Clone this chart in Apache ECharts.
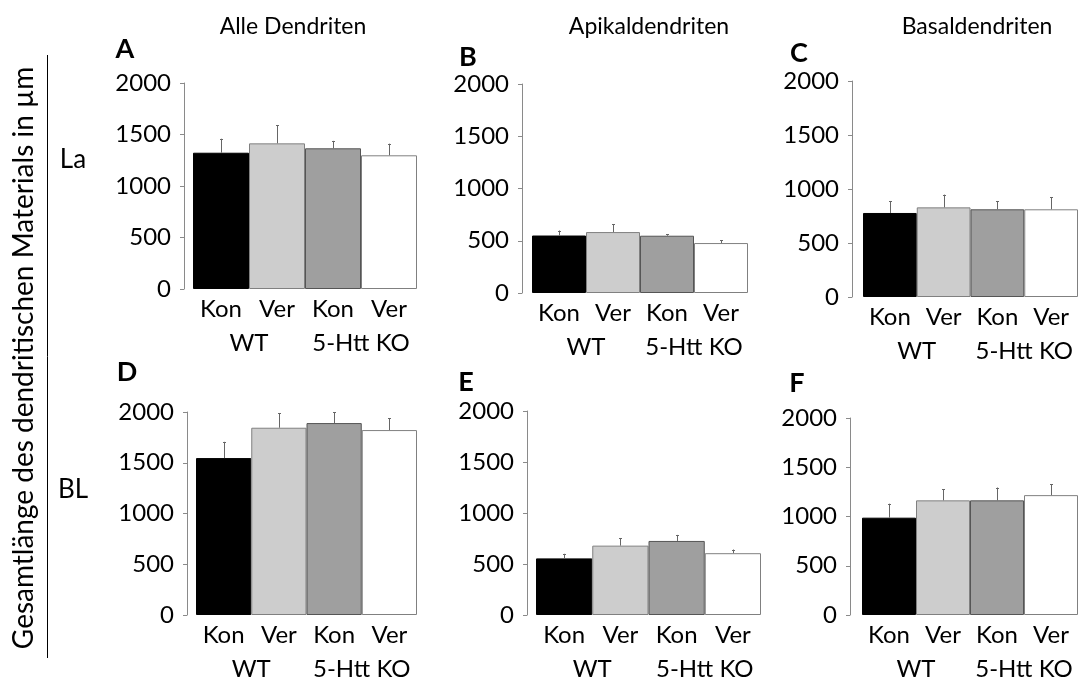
<!DOCTYPE html>
<html><head><meta charset="utf-8">
<script src="https://cdn.jsdelivr.net/npm/echarts@6/dist/echarts.min.js"></script>
<style>html,body{margin:0;padding:0;background:#fff}#c{width:1078px;height:681px}</style>
</head><body><div id="c"></div>
<script>
// ---- data ----
const categories = ['Kon', 'Ver', 'Kon', 'Ver'];
const groups = ['WT', '5-Htt KO'];
const colTitles = ['Alle Dendriten', 'Apikaldendriten', 'Basaldendriten'];
const rowLabels = ['La', 'BL'];
const panelLetters = ['A', 'B', 'C', 'D', 'E', 'F'];
const yAxisTitle = 'Gesamtlänge des dendritischen Materials in µm';
const yMin = 0, yMax = 2000, yStep = 500;

const meanA = [1323, 1414, 1366, 1298];
const semA  = [136, 175, 72, 113];
const meanB = [550, 583, 548, 478];
const semB  = [48, 76, 13, 28];
const meanC = [778, 830, 812, 812];
const semC  = [111, 118, 77, 114];
const meanD = [1546, 1845, 1891, 1822];
const semD  = [160, 145, 106, 116];
const meanE = [555, 680, 726, 606];
const semE  = [45, 75, 59, 36];
const meanF = [988, 1164, 1164, 1217];
const semF  = [142, 113, 130, 109];

const means = [meanA, meanB, meanC, meanD, meanE, meanF];
const sems = [semA, semB, semC, semD, semE, semF];

// ---- styling / layout ----
const FONT = 'Lato';
const barFill = ['#000000', '#cdcdcd', '#9f9f9f', '#ffffff'];
const barBorder = ['#000000', '#808080', '#555555', '#808080'];
const axisGray = '#8a8a8a';
const grids = [
  {left: 193, top: 83, width: 224, height: 206, off: 9},
  {left: 532, top: 84, width: 216, height: 209, off: 10},
  {left: 863, top: 81, width: 215, height: 216, off: 11},
  {left: 196, top: 412, width: 221, height: 207, off: 9},
  {left: 536, top: 411, width: 225, height: 206, off: 9},
  {left: 862, top: 418, width: 216, height: 201, off: 12}
];
const letterPos = [[125, 49], [468, 57], [799, 53], [127, 372], [466, 382], [797, 383]];
const titlePos = [[293, 27], [649, 27], [977, 27]];
const rowPos = [[73, 160], [73, 490]];

const option = {
  animation: false,
  textStyle: {fontFamily: FONT},
  grid: [], xAxis: [], yAxis: [], series: [],
  graphic: []
};

grids.forEach((g, i) => {
  option.grid.push({left: g.left, top: g.top, width: g.width, height: g.height, containLabel: false});
  option.xAxis.push({
    type: 'category', gridIndex: i, data: categories, boundaryGap: true,
    axisLine: {show: false}, axisTick: {show: false},
    axisLabel: {color: '#000', fontSize: 24, fontFamily: FONT, margin: 8, interval: 0, hideOverlap: false}
  });
  option.xAxis.push({
    type: 'category', gridIndex: i, data: groups, position: 'bottom', boundaryGap: true,
    axisLine: {show: false}, axisTick: {show: false},
    axisLabel: {color: '#000', fontSize: 24, fontFamily: FONT, margin: 42, interval: 0, hideOverlap: false}
  });
  option.yAxis.push({
    type: 'value', gridIndex: i, min: yMin, max: yMax, interval: yStep, offset: g.off,
    splitLine: {show: false},
    axisLine: {show: true, lineStyle: {color: axisGray, width: 1}},
    axisTick: {show: true, length: 4, lineStyle: {color: axisGray}},
    axisLabel: {color: '#000', fontSize: 24, fontFamily: FONT, margin: 13, formatter: v => String(v)}
  });
  option.series.push({
    type: 'bar', xAxisIndex: i * 2, yAxisIndex: i, barCategoryGap: 0, barGap: 0,
    data: means[i].map((v, k) => ({value: v, itemStyle: {color: barFill[k], borderColor: barBorder[k], borderWidth: 1}})),
    z: 2
  });
  option.series.push({
    type: 'custom', xAxisIndex: i * 2, yAxisIndex: i, z: 3,
    data: means[i].map((v, k) => [k, v, sems[i][k]]),
    renderItem: function (params, api) {
      const x = api.value(0), m = api.value(1), s = api.value(2);
      const p0 = api.coord([x, m]);
      const p1 = api.coord([x, m + s]);
      const st = {stroke: '#666', lineWidth: 1};
      return {type: 'group', children: [
        {type: 'line', shape: {x1: Math.round(p0[0]) + 0.5, y1: p0[1], x2: Math.round(p0[0]) + 0.5, y2: p1[1]}, style: st},
        {type: 'line', shape: {x1: Math.round(p1[0]) - 1, y1: Math.round(p1[1]) + 0.5, x2: Math.round(p1[0]) + 2, y2: Math.round(p1[1]) + 0.5}, style: st}
      ]};
    }
  });
  option.graphic.push({type: 'text', x: letterPos[i][0], y: letterPos[i][1],
    style: {text: panelLetters[i], font: 'bold 27px ' + FONT, fill: '#000', align: 'center', verticalAlign: 'middle'}});
});

colTitles.forEach((t, i) => option.graphic.push({type: 'text', x: titlePos[i][0], y: titlePos[i][1],
  style: {text: t, font: '23px ' + FONT, fill: '#000', align: 'center', verticalAlign: 'middle'}}));
rowLabels.forEach((t, i) => option.graphic.push({type: 'text', x: rowPos[i][0], y: rowPos[i][1],
  style: {text: t, font: '26px ' + FONT, fill: '#000', align: 'center', verticalAlign: 'middle'}}));
option.graphic.push({type: 'line', shape: {x1: 47.5, y1: 55, x2: 47.5, y2: 658}, style: {stroke: '#000', lineWidth: 1}});
option.graphic.push({type: 'text', x: 24, y: 358, rotation: Math.PI / 2,
  style: {text: yAxisTitle, font: '28px ' + FONT, fill: '#000', align: 'center', verticalAlign: 'middle'}});

const chart = echarts.init(document.getElementById('c'), null, {renderer: 'canvas'});
chart.setOption(option);
</script></body></html>
